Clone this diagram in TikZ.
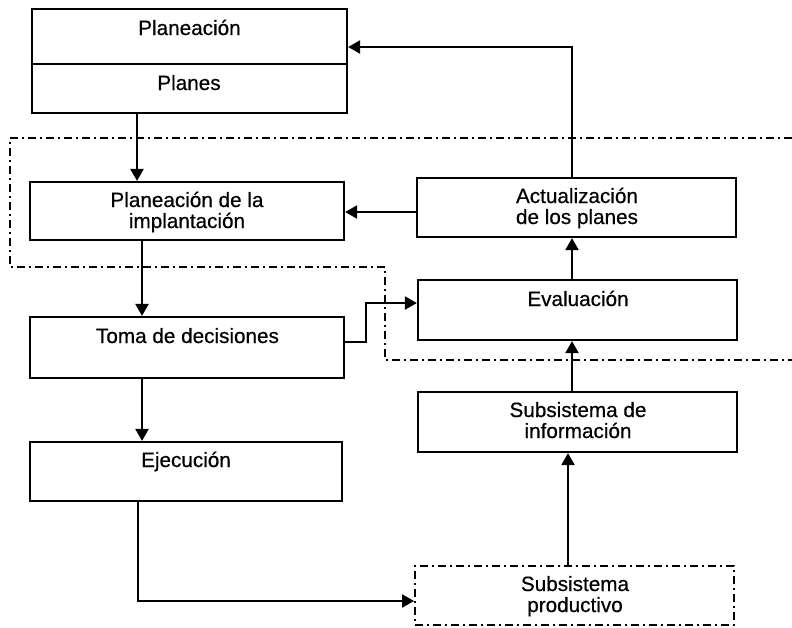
\documentclass[tikz,border=0pt]{standalone}
\usepackage{fontspec}
\setmainfont{Liberation Sans}
\newfontfamily\lblfont{Liberation Sans}[FakeBold=0.5]
\usetikzlibrary{arrows.meta}
\begin{document}
\begin{tikzpicture}[x=1pt,y=-1pt,
  box/.style={draw, line width=2.2pt, inner sep=0pt},
  lbl/.style={font=\lblfont\fontsize{20.7}{21}\selectfont, align=center, anchor=base, inner sep=0pt},
  arr/.style={line width=2.2pt, -{Triangle[length=12pt,width=13pt]}},
  dashdot/.style={line width=1.8pt, dash pattern=on 8pt off 4pt on 2pt off 4pt},
]
\useasboundingbox (0,0) rectangle (792,627);

% guide coordinates for connector positions
\coordinate (x137) at (137,0);
\coordinate (x138) at (138,0);
\coordinate (x142) at (142,0);
\coordinate (x568) at (568,0);
\coordinate (x572) at (572,0);
\coordinate (y47)  at (0,47);
\coordinate (y64)  at (0,64);
\coordinate (y212) at (0,212);
\coordinate (y303) at (0,303);
\coordinate (y342) at (0,342);
\coordinate (y601) at (0,601);

% boundary of the implementation subsystem
\draw[dashdot] (792,138) -- (10,138) -- (10,267) -- (385,267) -- (385,360) -- (792,360);

% boxes
\node[box, minimum width=315pt, minimum height=104pt] (plan) at (189.5,61) {};
\draw[line width=2.2pt] (plan.west |- y64) -- (plan.east |- y64);
\node[box, minimum width=314pt, minimum height=58pt] (impl) at (187,211) {};
\node[box, minimum width=314pt, minimum height=61pt] (toma) at (187,347.5) {};
\node[box, minimum width=312pt, minimum height=59pt] (ejec) at (186,471.5) {};
\node[box, minimum width=319pt, minimum height=59pt] (actu) at (576.5,207.5) {};
\node[box, minimum width=319pt, minimum height=60pt] (eval) at (577.5,310) {};
\node[box, minimum width=319pt, minimum height=60pt] (info) at (577.5,422) {};
\node[box, dashdot, minimum width=319pt, minimum height=59pt] (prod) at (574.5,595.5) {};

% labels (base anchor sits on the last line)
\node[lbl] (tplan)   at (189.5,35) {Planeación};
\node[lbl] (tplanes) at (189,90)   {Planes};
\node[lbl] (timpl)   at (187,228)  {Planeación de la\\implantación};
\node[lbl] (tactu)   at (577,224)  {Actualización\\de los planes};
\node[lbl] (ttoma)   at (187.5,343) {Toma de decisiones};
\node[lbl] (teval)   at (578,306)  {Evaluación};
\node[lbl] (tinfo)   at (578,438)  {Subsistema de\\información};
\node[lbl] (tejec)   at (186,467)  {Ejecución};
\node[lbl] (tprod)   at (575,612)  {Subsistema\\productivo};

% connectors
\draw[arr] (plan.south -| x137) -- (impl.north -| x137);
\draw[arr] (impl.south -| x142) -- (toma.north -| x142);
\draw[arr] (toma.south -| x142) -- (ejec.north -| x142);
\draw[arr] (ejec.south -| x138) |- (prod.west |- y601);
\draw[arr] (prod.north -| x568) -- (info.south -| x568);
\draw[arr] (info.north -| x572) -- (eval.south -| x572);
\draw[arr] (eval.north -| x572) -- (actu.south -| x572);
\draw[arr] (actu.west |- y212) -- (impl.east |- y212);
\draw[arr] (actu.north -| x572) |- (plan.east |- y47);
\draw[arr] (toma.east |- y342) -- ++(21,0) |- (eval.west |- y303);
\end{tikzpicture}
\end{document}
